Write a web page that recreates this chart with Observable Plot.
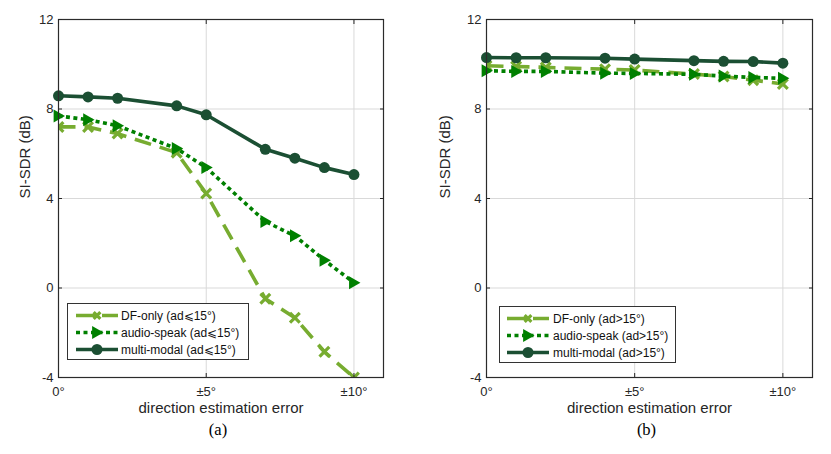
<!DOCTYPE html>
<html>
<head>
<meta charset="utf-8">
<script src="https://cdn.jsdelivr.net/npm/d3@7"></script>
<script src="https://cdn.jsdelivr.net/npm/@observablehq/plot@0.6"></script>
<style>
  html, body { margin: 0; padding: 0; background: #fff; }
  #root { position: relative; width: 831px; height: 454px; overflow: hidden; font-family: "Liberation Sans", Arial, sans-serif; }
  .panel { position: absolute; top: 0; }
  .legend { position: absolute; border: 1px solid #333; background: #fff; box-sizing: border-box; }
</style>
</head>
<body>
<div id="root"></div>
<script>
// ---- data ----
const errors = [0, 1, 2, 4, 5, 7, 8, 9, 10];
const xTicks = [0, 5, 10];
const xTickLabels = ["0°", "±5°", "±10°"];
const yTicks = [-4, 0, 4, 8, 12];

const dfA     = [7.2, 7.2, 6.9, 6.05, 4.22, -0.48, -1.33, -2.85, -4.0];
const speakA  = [7.69, 7.52, 7.25, 6.23, 5.38, 2.97, 2.33, 1.24, 0.24];
const multiA  = [8.59, 8.54, 8.48, 8.14, 7.74, 6.2, 5.8, 5.38, 5.07];

const dfB     = [9.93, 9.9, 9.86, 9.78, 9.74, 9.56, 9.45, 9.29, 9.12];
const speakB  = [9.71, 9.68, 9.68, 9.6, 9.59, 9.55, 9.47, 9.41, 9.37];
const multiB  = [10.3, 10.29, 10.29, 10.27, 10.23, 10.16, 10.13, 10.12, 10.05];

const seriesNames = ["DF-only", "audio-speak", "multi-modal"];
const labelsA = ["DF-only (ad⩽15°)", "audio-speak (ad⩽15°)", "multi-modal (ad⩽15°)"];
const labelsB = ["DF-only (ad>15°)", "audio-speak (ad>15°)", "multi-modal (ad>15°)"];

// ---- styles ----
const colors = {"DF-only": "#77ac30", "audio-speak": "#008000", "multi-modal": "#1b4f33"};
const dashes = {"DF-only": "17,9", "audio-speak": "4,3.5", "multi-modal": null};

const triRight = {
  draw(context, size) {
    const r = Math.sqrt(size / Math.PI);
    context.moveTo(r, 0);
    context.lineTo(-0.75 * r, -r);
    context.lineTo(-0.75 * r, r);
    context.closePath();
  }
};

function rows(vals) { return errors.map((e, i) => ({x: e, y: vals[i]})); }

function seriesMarks(name, vals) {
  const data = rows(vals);
  const c = colors[name];
  const marks = [Plot.line(data, {x: "x", y: "y", stroke: c, strokeWidth: 3.6, strokeDasharray: dashes[name], strokeLinecap: "butt", clip: true})];
  if (name === "DF-only") marks.push(Plot.dot(data, {x: "x", y: "y", symbol: "times", r: 4.5, stroke: c, strokeWidth: 3.2, clip: true}));
  else if (name === "audio-speak") marks.push(Plot.dot(data, {x: "x", y: "y", symbol: triRight, r: 6.5, fill: c, stroke: "none"}));
  else marks.push(Plot.dot(data, {x: "x", y: "y", r: 5.5, fill: c, stroke: "none"}));
  return marks;
}

function makePanel(left, width, mLeft, mRight, series, caption) {
  const fmtX = d => xTickLabels[xTicks.indexOf(d)];
  const chart = Plot.plot({
    width, height: 454,
    marginLeft: mLeft, marginRight: mRight, marginTop: 19, marginBottom: 77,
    style: {fontFamily: "'Liberation Sans', Arial, sans-serif", background: "transparent", color: "#262626"},
    x: {domain: [0, 11]},
    y: {domain: [-4, 12]},
    marks: [
      Plot.gridX(xTicks.filter(d => d > 0), {stroke: "#d9d9d9", strokeOpacity: 1}),
      Plot.gridY(yTicks.filter(d => d > -4 && d < 12), {stroke: "#d9d9d9", strokeOpacity: 1}),
      ...seriesMarks("DF-only", series[0]),
      ...seriesMarks("audio-speak", series[1]),
      ...seriesMarks("multi-modal", series[2]),
      Plot.frame({stroke: "#2b2b2b", strokeWidth: 1.2}),
      Plot.axisX({ticks: xTicks, tickFormat: fmtX, tickSize: 0, tickPadding: 9, fontSize: 13, label: null}),
      Plot.axisX({ticks: xTicks, tickSize: -4, tickFormat: () => "", label: null}),
      Plot.axisX({anchor: "top", ticks: xTicks, tickSize: -4, tickFormat: () => "", label: null}),
      Plot.axisY({ticks: yTicks, tickFormat: d => String(d), tickSize: 0, tickPadding: 5, fontSize: 13, label: null}),
      Plot.axisY({ticks: yTicks, tickSize: -4, tickFormat: () => "", label: null}),
      Plot.axisY({anchor: "right", ticks: yTicks, tickSize: -4, tickFormat: () => "", label: null}),
      Plot.text(["SI-SDR (dB)"], {frameAnchor: "left", rotate: -90, dx: -mLeft + 25, fontSize: 15, fill: "#262626"}),
      Plot.text(["direction estimation error"], {frameAnchor: "bottom", dy: 35, fontSize: 15, fill: "#262626"}),
      Plot.text([caption], {frameAnchor: "bottom", dy: 57, dx: -3, fontSize: 16.5, fontFamily: "'Liberation Serif', 'Times New Roman', serif", fill: "#000"})
    ]
  });
  chart.classList.add("panel");
  chart.style.left = left + "px";
  document.getElementById("root").appendChild(chart);
}

function makeLegend(left, top, width, height, rowYs, sampleX0, sampleX1, textX, labels) {
  const div = document.createElement("div");
  div.className = "legend";
  Object.assign(div.style, {left: left + "px", top: top + "px", width: width + "px", height: height + "px"});
  const svg = d3.create("svg").attr("width", width - 2).attr("height", height - 2)
    .style("position", "absolute").style("left", "0").style("top", "0");
  seriesNames.forEach((name, i) => {
    const y = rowYs[i];
    const c = colors[name];
    svg.append("line").attr("x1", sampleX0).attr("x2", sampleX1).attr("y1", y).attr("y2", y)
      .attr("stroke", c).attr("stroke-width", 3.6)
      .attr("stroke-dasharray", name === "DF-only" ? "20,6,0,0" : dashes[name]);
    const mx = (sampleX0 + sampleX1) / 2;
    if (name === "DF-only") {
      const r = 4.5 * 0.75;
      svg.append("path").attr("d", `M${mx - r},${y - r}L${mx + r},${y + r}M${mx - r},${y + r}L${mx + r},${y - r}`)
        .attr("stroke", c).attr("stroke-width", 3.2).attr("fill", "none");
    } else if (name === "audio-speak") {
      const r = 6.5;
      svg.append("path").attr("d", `M${mx + r},${y}L${mx - 0.75 * r},${y - r}L${mx - 0.75 * r},${y + r}Z`).attr("fill", c);
    } else {
      svg.append("circle").attr("cx", mx).attr("cy", y).attr("r", 5.5).attr("fill", c);
    }
    svg.append("text").attr("x", textX).attr("y", y).attr("dy", "0.35em")
      .attr("font-size", 12).attr("font-family", "'Liberation Sans', Arial, sans-serif")
      .attr("fill", "#111").text(labels[i]);
  });
  div.appendChild(svg.node());
  document.getElementById("root").appendChild(div);
}

makePanel(0, 400, 58, 17, [dfA, speakA, multiA], "(a)");
makePanel(420, 411, 66, 19, [dfB, speakB, multiB], "(b)");
makeLegend(67, 303, 182, 57, [11.5, 28.5, 45.5], 8, 50, 53, labelsA);
makeLegend(499, 306, 177, 57, [11.5, 28.5, 45.5], 7, 49, 53, labelsB);
</script>
</body>
</html>
